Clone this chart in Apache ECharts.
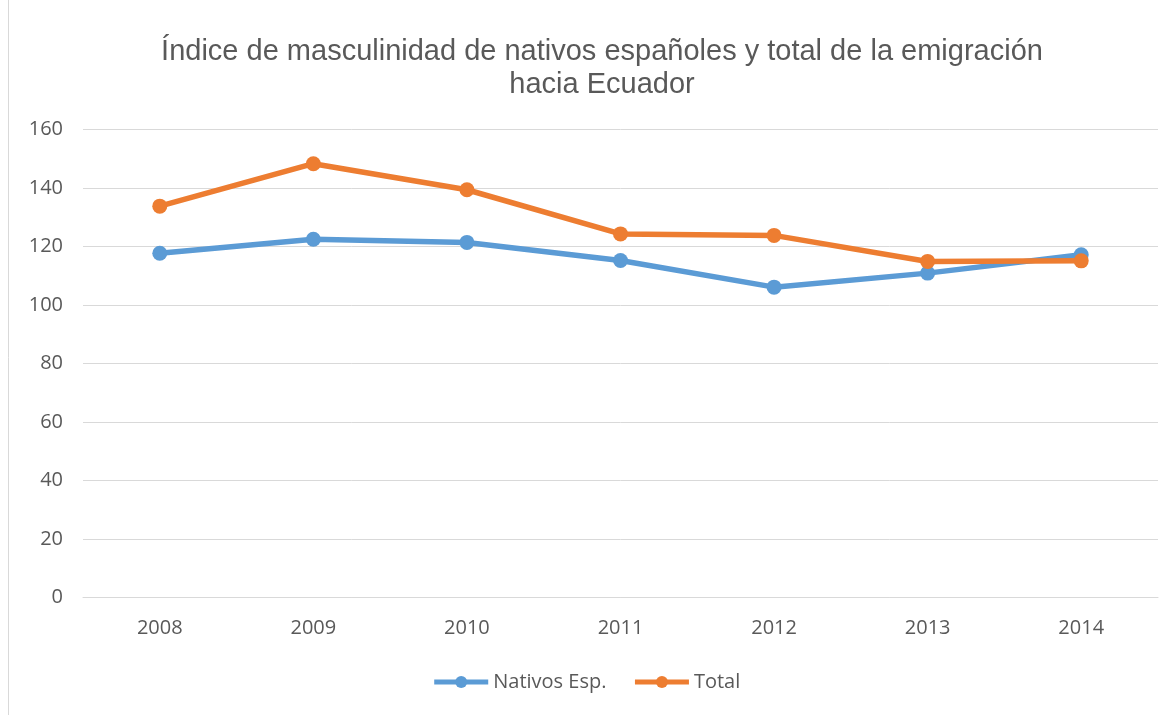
<!DOCTYPE html>
<html>
<head>
<meta charset="utf-8">
<script src="https://cdn.jsdelivr.net/npm/echarts@6/dist/echarts.min.js"></script>
<style>
  html, body { margin: 0; padding: 0; background: #fff; }
  #chart { width: 1172px; height: 715px; }
</style>
</head>
<body>
<div id="chart"></div>
<script>
var years = ['2008', '2009', '2010', '2011', '2012', '2013', '2014'];
var nativos = [117.7, 122.5, 121.4, 115.2, 106.1, 110.9, 117.2];
var total = [133.8, 148.3, 139.4, 124.3, 123.8, 114.9, 115.1];

var myChart = echarts.init(document.getElementById('chart'));

var option = {
  backgroundColor: '#fff',
  textStyle: { fontFamily: 'Open Sans, Liberation Sans, sans-serif' },
  title: {
    text: 'Índice de masculinidad de nativos españoles y total de la emigración\nhacia Ecuador',
    left: 597,
    top: 30,
    textAlign: 'center',
    textStyle: {
      color: '#595959',
      fontSize: 29,
      fontWeight: 'normal',
      lineHeight: 33,
      fontFamily: 'Liberation Sans, Arial, sans-serif'
    }
  },
  graphic: [{
    type: 'rect',
    shape: { x: 8.5, y: -2, width: 1200, height: 730 },
    style: { fill: 'none', stroke: '#d9d9d9', lineWidth: 1 },
    silent: true
  }],
  legend: {
    bottom: 18,
    left: 'center',
    itemWidth: 54,
    itemHeight: 15,
    itemGap: 26,
    lineStyle: { width: 5 },
    textStyle: { color: '#595959', fontSize: 20 },
    data: ['Nativos Esp.', 'Total']
  },
  grid: {
    left: 83,
    right: 14,
    top: 129.5,
    bottom: 117.5,
    containLabel: false
  },
  xAxis: {
    type: 'category',
    data: years,
    boundaryGap: true,
    axisLine: { show: true, lineStyle: { color: '#d9d9d9', width: 1 } },
    axisTick: { show: false },
    axisLabel: { color: '#595959', fontSize: 20, margin: 21 }
  },
  yAxis: {
    type: 'value',
    min: 0,
    max: 160,
    interval: 20,
    axisLine: { show: false },
    axisTick: { show: false },
    axisLabel: { color: '#595959', fontSize: 20, margin: 20 },
    splitLine: { lineStyle: { color: '#d9d9d9', width: 1 } }
  },
  series: [
    {
      name: 'Nativos Esp.',
      type: 'line',
      data: nativos,
      symbol: 'circle',
      symbolSize: 15,
      lineStyle: { width: 5.5, color: '#5b9bd5' },
      itemStyle: { color: '#5b9bd5' }
    },
    {
      name: 'Total',
      type: 'line',
      data: total,
      symbol: 'circle',
      symbolSize: 15,
      lineStyle: { width: 5.5, color: '#ed7d31' },
      itemStyle: { color: '#ed7d31' }
    }
  ]
};

myChart.setOption(option);
</script>
</body>
</html>
